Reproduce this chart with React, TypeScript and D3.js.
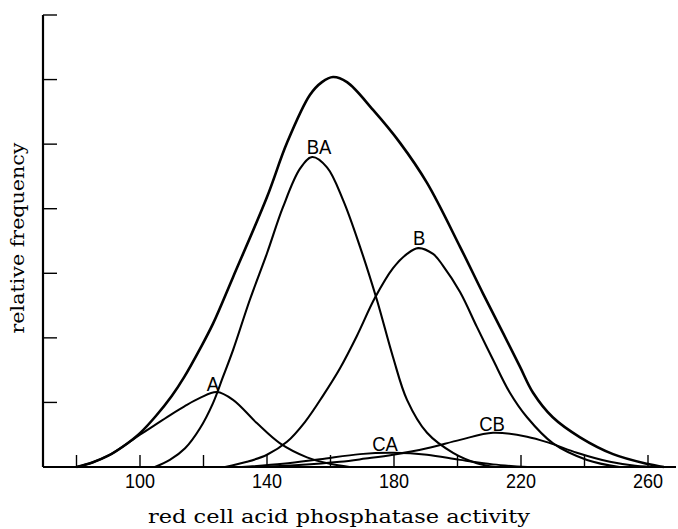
import React from "react";
import * as d3 from "d3";

const totalCurve: [number, number][] = [
  [80, 0], [85, 0.07], [90, 0.175], [95, 0.33], [100, 0.525], [105, 0.79], [110, 1.1],
  [114, 1.4], [118.9, 1.83], [123, 2.22], [129.3, 2.94], [140, 4.18], [146.3, 5.02],
  [153.5, 5.76], [157.3, 5.96], [160.8, 6.04], [165.2, 5.96], [173.4, 5.53], [181.9, 5.02],
  [190.4, 4.4], [200.8, 3.41], [208, 2.69], [214.4, 2.07], [219.7, 1.55], [223.8, 1.15],
  [230, 0.77], [238.6, 0.46], [249, 0.2], [259.7, 0.05], [265, 0],
];
const baCurve: [number, number][] = [
  [104.7, 0], [109.4, 0.11], [114.2, 0.29], [118.9, 0.6], [123, 0.99], [126.1, 1.39],
  [129.3, 1.81], [134.6, 2.59], [140, 3.31], [145, 4.02], [150.4, 4.62], [154.2, 4.8],
  [158.9, 4.64], [164, 4.13], [169.3, 3.41], [174.6, 2.59], [179.7, 1.7], [184.1, 1.04],
  [190.4, 0.53], [198.6, 0.22], [206.1, 0.06], [212, 0],
];
const bCurve: [number, number][] = [
  [126.8, 0], [133.7, 0.08], [140, 0.19], [146.3, 0.39], [152, 0.7], [157.7, 1.11],
  [163, 1.53], [168.3, 2.03], [174, 2.62], [179.7, 3.08], [184.1, 3.3], [187.6, 3.39],
  [192.3, 3.3], [195.4, 3.12], [200.8, 2.71], [206.1, 2.17], [211.2, 1.66], [216.5, 1.15],
  [221.9, 0.77], [230, 0.37], [240.8, 0.11], [251, 0],
];
const aCurve: [number, number][] = [
  [80, 0], [85, 0.07], [90, 0.175], [95, 0.33], [100, 0.5], [105, 0.66], [110, 0.82],
  [114, 0.94], [118.9, 1.07], [124.2, 1.16], [129.3, 1.04], [136.8, 0.68], [144, 0.37],
  [152.6, 0.15], [159.8, 0.05], [166, 0],
];
const caCurve: [number, number][] = [
  [132, 0], [145, 0.05], [156.7, 0.12], [169.3, 0.2], [179.7, 0.22], [190.4, 0.19],
  [200.8, 0.11], [211.2, 0.04], [222, 0],
];
const cbCurve: [number, number][] = [
  [136, 0], [150, 0.03], [163, 0.08], [171, 0.13], [179.7, 0.19], [190.4, 0.29],
  [200.8, 0.42], [211.2, 0.53], [221.9, 0.47], [229.1, 0.37], [237.6, 0.22], [248, 0.08],
  [256, 0.02], [264, 0],
];

const curveLabels = ["A", "BA", "B", "CA", "CB"];
const labelX = [123, 156.4, 187.9, 177.2, 210.9];
const labelY = [1.3, 4.97, 3.56, 0.37, 0.68];

const xTicks = [80, 100, 120, 140, 160, 180, 200, 220, 240, 260];
const xTickLabels = [100, 140, 180, 220, 260];
const yTicks = [1, 2, 3, 4, 5, 6, 7];

const xTitle = "red cell acid phosphatase activity";
const yTitle = "relative frequency";

export default function App() {
  const W = 678, H = 529;
  const x = d3.scaleLinear().domain([80, 260]).range([76.5, 648]);
  const y = d3.scaleLinear().domain([0, 7]).range([467, 15]);
  const axisX0 = 43;
  const line = d3
    .line<[number, number]>()
    .x((d) => x(d[0]))
    .y((d) => Math.min(y(0), y(d[1])))
    .curve(d3.curveCatmullRom.alpha(0.5));

  const curves = [
    { data: totalCurve, w: 2.6 },
    { data: baCurve, w: 2.1 },
    { data: bCurve, w: 2.1 },
    { data: aCurve, w: 2.0 },
    { data: caCurve, w: 1.9 },
    { data: cbCurve, w: 2.0 },
  ];

  const sans = "'Liberation Sans', Arial, sans-serif";
  const serif = "'DejaVu Serif', serif";

  return (
    <svg
      width={W}
      height={H}
      style={{ position: "absolute", left: 0, top: 0, background: "#fff" }}
    >
      <rect x={0} y={0} width={W} height={H} fill="#fff" />
      {/* axes */}
      <line x1={axisX0} x2={axisX0} y1={y(7)} y2={y(0)} stroke="#000" strokeWidth={2.2} />
      <line x1={axisX0} x2={676} y1={y(0)} y2={y(0)} stroke="#000" strokeWidth={2.2} />
      {yTicks.map((t) => (
        <line key={"yt" + t} x1={axisX0} x2={axisX0 + 14} y1={y(t)} y2={y(t)} stroke="#000" strokeWidth={1.4} />
      ))}
      {xTicks.map((t) => (
        <line key={"xt" + t} x1={x(t)} x2={x(t)} y1={y(0)} y2={y(0) - 12} stroke="#000" strokeWidth={1.4} />
      ))}
      {xTickLabels.map((t) => (
        <text
          key={"xl" + t}
          transform={`translate(${x(t)},488) scale(1,1.15)`}
          textAnchor="middle"
          fontFamily={sans}
          fontSize={18}
          fill="#000"
        >
          {t}
        </text>
      ))}
      {/* curves */}
      {curves.map((c, i) => (
        <path key={"c" + i} d={line(c.data) || ""} fill="none" stroke="#000" strokeWidth={c.w} strokeLinejoin="round" />
      ))}
      {curveLabels.map((l, i) => (
        <text
          key={"l" + l}
          transform={`translate(${x(labelX[i])},${y(labelY[i]) + 7.5}) scale(1,1.1)`}
          textAnchor="middle"
          fontFamily={sans}
          fontSize={18.5}
          fill="#000"
        >
          {l}
        </text>
      ))}
      {/* titles */}
      <text
        x={339}
        y={523}
        textAnchor="middle"
        fontFamily={serif}
        fontSize={19}
        textLength={382}
        lengthAdjust="spacingAndGlyphs"
        fill="#000"
      >
        {xTitle}
      </text>
      <text
        transform={`translate(24,238) rotate(-90)`}
        textAnchor="middle"
        fontFamily={serif}
        fontSize={19}
        textLength={191}
        lengthAdjust="spacingAndGlyphs"
        fill="#000"
      >
        {yTitle}
      </text>
    </svg>
  );
}
